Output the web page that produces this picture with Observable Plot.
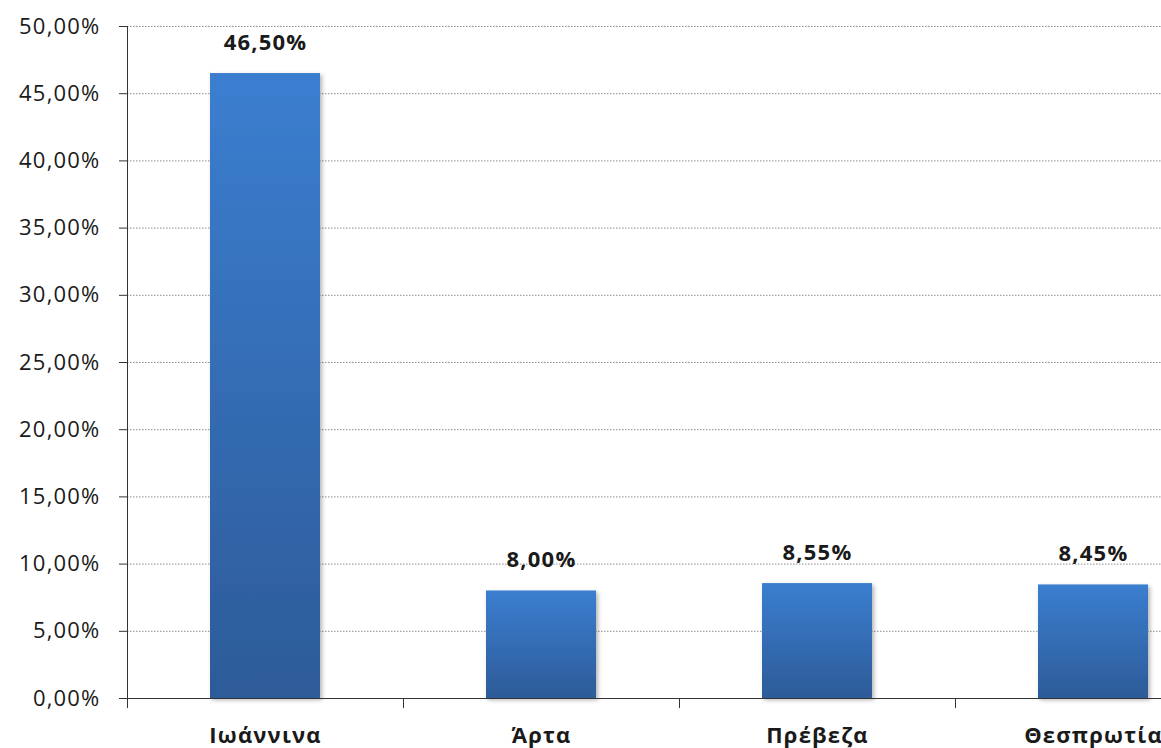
<!DOCTYPE html>
<html>
<head>
<meta charset="utf-8">
<script src="https://cdn.jsdelivr.net/npm/d3@7"></script>
<script src="https://cdn.jsdelivr.net/npm/@observablehq/plot@0.6"></script>
<style>
  html, body { margin: 0; padding: 0; background: #fff; overflow: hidden; }
</style>
</head>
<body>
<div id="chart"></div>
<script>
const categories = ["Ιωάννινα", "Άρτα", "Πρέβεζα", "Θεσπρωτία"];
const values = [46.50, 8.00, 8.55, 8.45];
const yTicks = [0, 5, 10, 15, 20, 25, 30, 35, 40, 45, 50];

const data = categories.map((c, i) => ({category: c, value: values[i]}));
const fmt = d => d.toFixed(2).replace(".", ",") + "%";

const chart = Plot.plot({
  width: 1161,
  height: 748,
  marginTop: 26,
  marginBottom: 50,
  marginLeft: 127,
  marginRight: 0,
  style: {fontFamily: "'Open Sans', sans-serif", fontSize: "22px", color: "#1a1a1a", letterSpacing: "1.2px", background: "#fff"},
  x: {domain: categories, range: [127, 1231], paddingInner: 0.6, paddingOuter: 0.3, label: null},
  y: {domain: [0, 50], label: null},
  marks: [
    Plot.gridY(yTicks.filter(t => t > 0), {stroke: "#8c8c8c", strokeOpacity: 1, strokeDasharray: "1.5,1.5"}),
    Plot.barY(data, {x: "category", y: "value", fill: "url(#barGrad)"}),
    Plot.ruleY([0], {stroke: "#333"}),
    Plot.frame({anchor: "left", stroke: "#333"}),
    Plot.axisY({ticks: yTicks, tickSize: 8, tickPadding: 19, tickFormat: fmt, fontSize: 22, stroke: "#333", fill: "#1a1a1a"}),
    Plot.axisX({tickSize: 0, tickPadding: 29, fontWeight: "bold", fontSize: 22, fill: "#1a1a1a"}),
    Plot.ruleX(categories, {x: d => d, y1: 0, y2: -0.75, dx: -138, stroke: "#333"}),
    Plot.text(data, {x: "category", y: "value", text: d => fmt(d.value), dy: -24, lineAnchor: "bottom", fontWeight: "bold", fontSize: 22, fill: "#1a1a1a"})
  ]
});

const svg = d3.select(chart);
const defs = svg.insert("defs", ":first-child");
const g = defs.append("linearGradient").attr("id", "barGrad").attr("x1", 0).attr("y1", 0).attr("x2", 0).attr("y2", 1);
g.append("stop").attr("offset", "0%").attr("stop-color", "#3b7ed0");
g.append("stop").attr("offset", "100%").attr("stop-color", "#2d5b98");
const f = defs.append("filter").attr("id", "shadow").attr("x", "-10%").attr("y", "-10%").attr("width", "130%").attr("height", "130%");
f.append("feDropShadow").attr("dx", 2).attr("dy", 2).attr("stdDeviation", 2).attr("flood-color", "#000").attr("flood-opacity", 0.3);
svg.selectAll("g[aria-label=bar] rect").attr("filter", "url(#shadow)");

document.getElementById("chart").appendChild(chart);
</script>
</body>
</html>
